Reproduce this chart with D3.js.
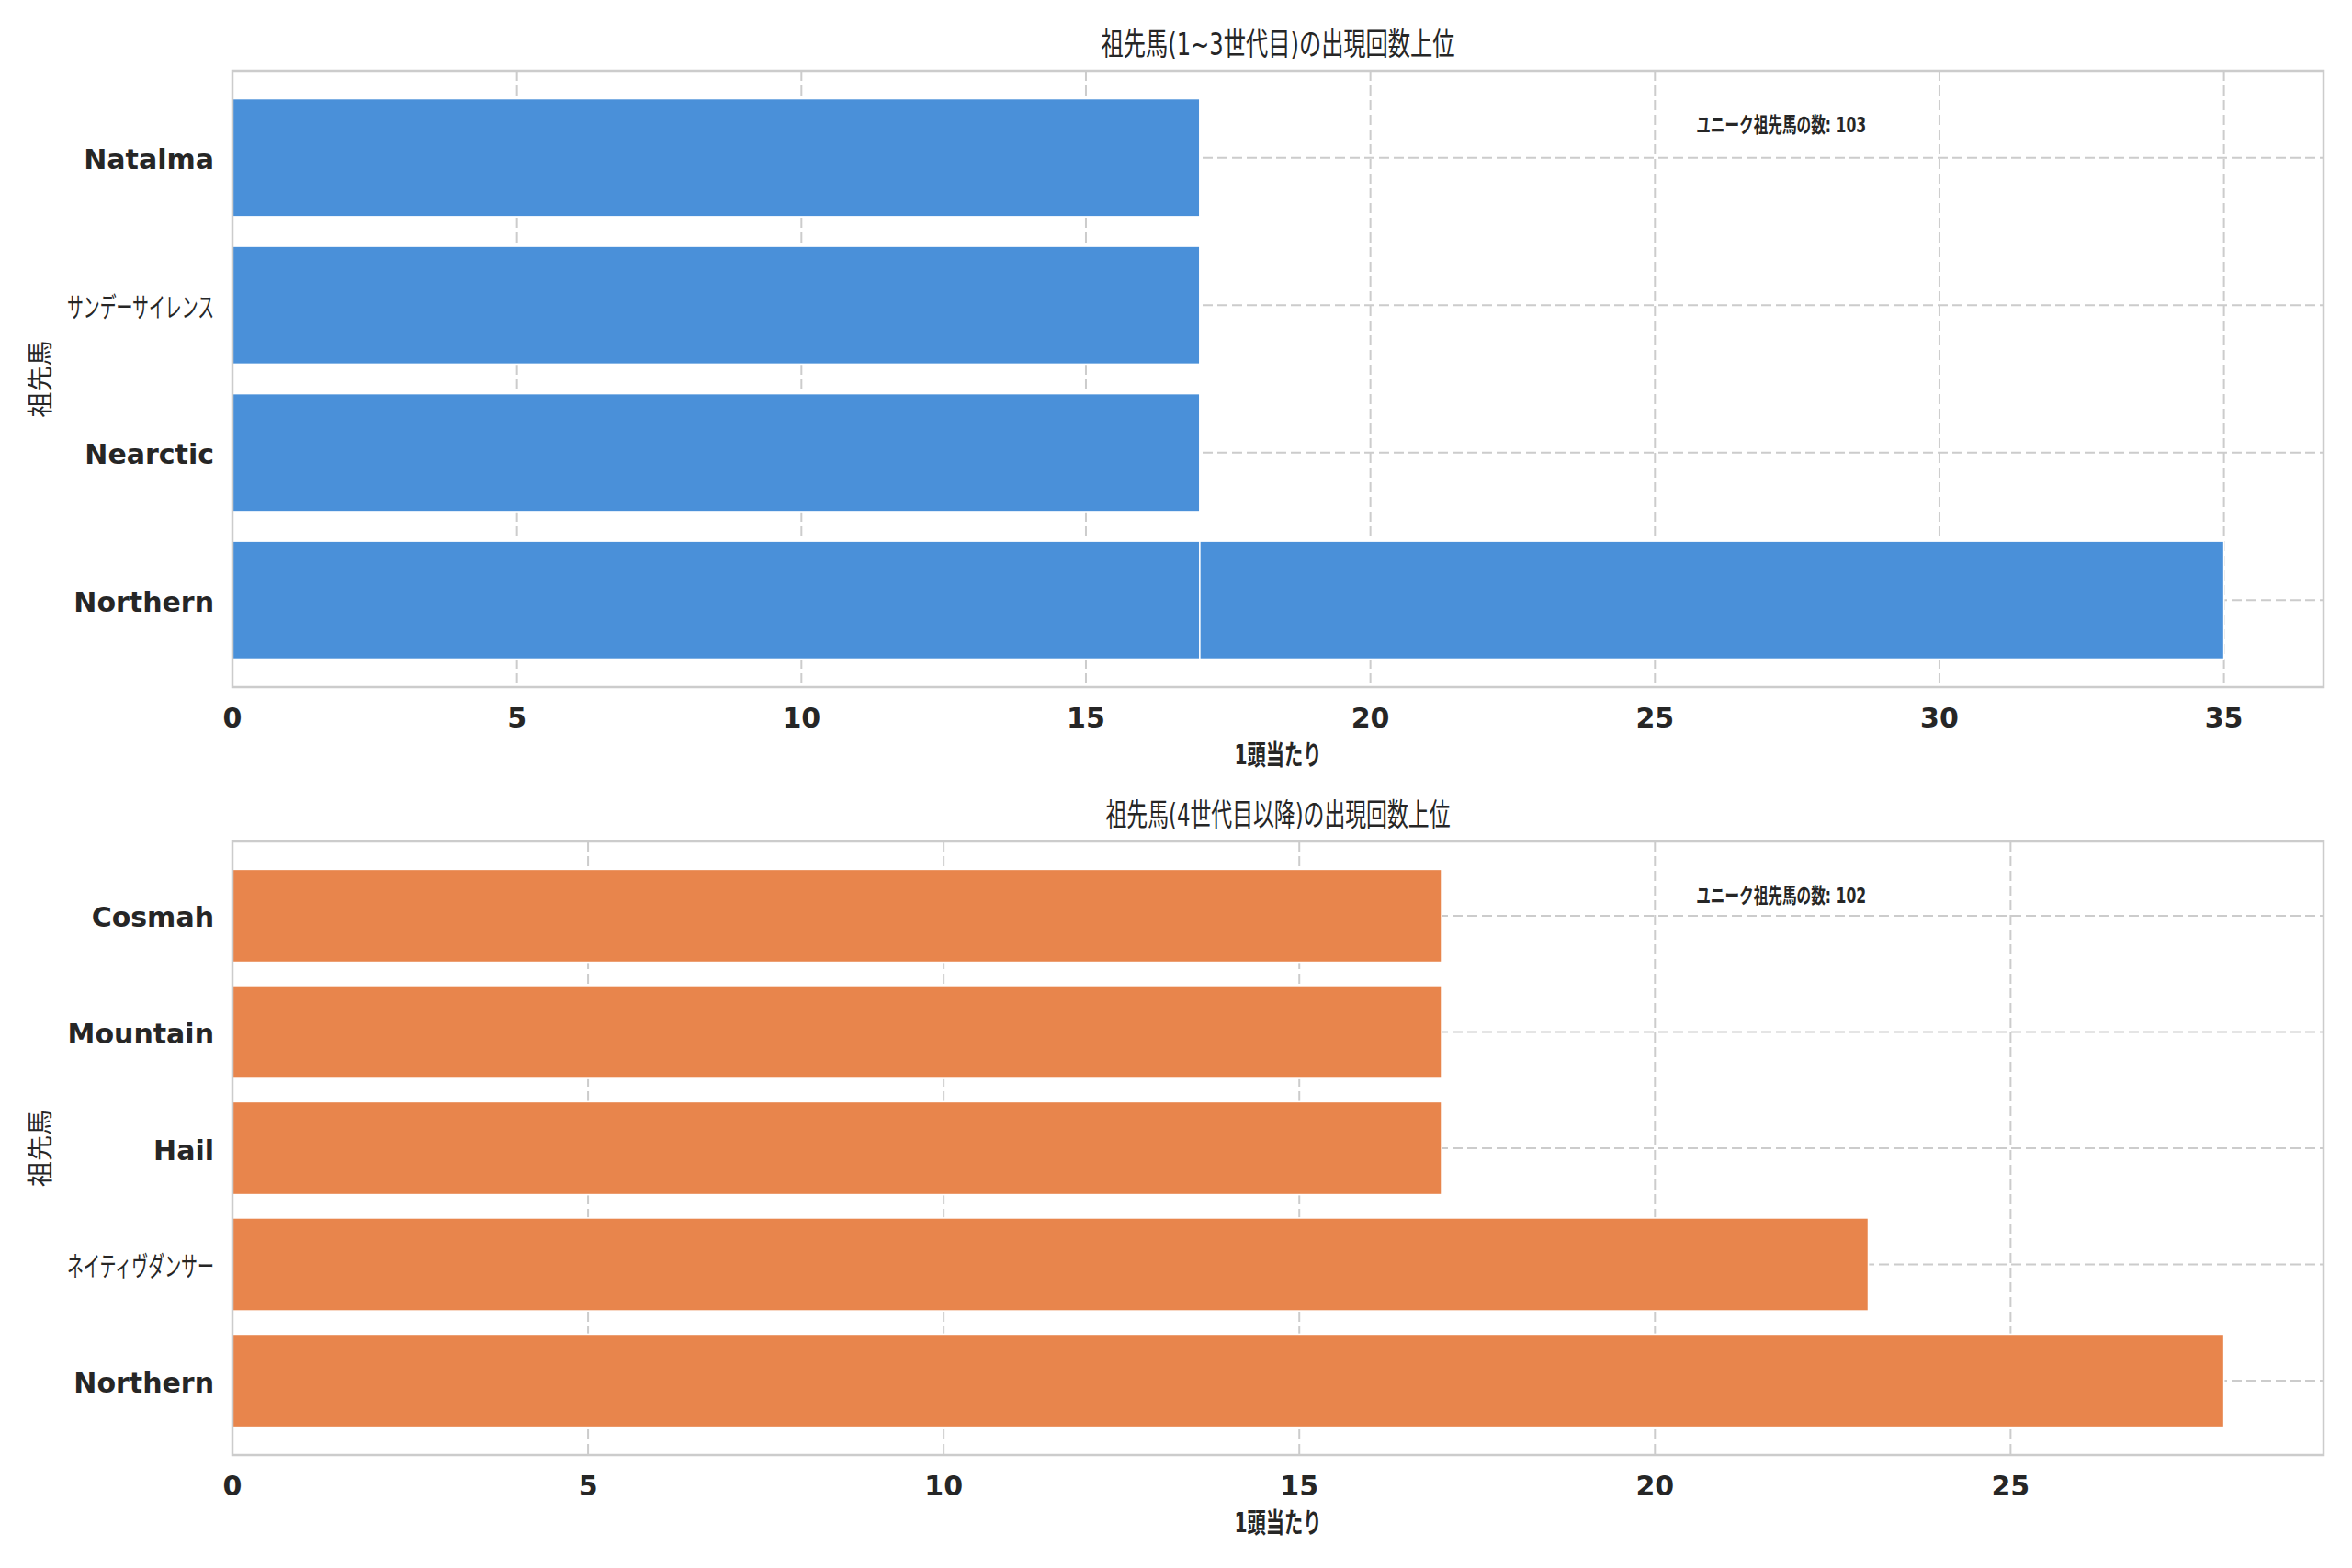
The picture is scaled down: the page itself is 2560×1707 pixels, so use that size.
<!DOCTYPE html>
<html>
<head>
<meta charset="utf-8">
<script src="https://cdn.jsdelivr.net/npm/d3@7"></script>
<style>
  body { margin: 0; background: #fff; }
  text { fill: #262626; font-family: "DejaVu Sans", "Noto Sans CJK JP", sans-serif; }
</style>
</head>
<body>
<div id="chart"></div>
<script>
// data
const topTitle = "祖先馬(1~3世代目)の出現回数上位";
const topNames = ["Northern", "Northern", "Nearctic", "サンデーサイレンス", "Natalma"];
const topCounts = [35, 17, 17, 17, 17];
const topTicks = [0, 5, 10, 15, 20, 25, 30, 35];
const topUnique = 103;

const bottomTitle = "祖先馬(4世代目以降)の出現回数上位";
const bottomNames = ["Northern", "ネイティヴダンサー", "Hail", "Mountain", "Cosmah"];
const bottomCounts = [28, 23, 17, 17, 17];
const bottomTicks = [0, 5, 10, 15, 20, 25];
const bottomUnique = 102;

const xLabel = "1頭当たり";
const yLabel = "祖先馬";
const noteLabel = "ユニーク祖先馬の数";

const W = 2560, H = 1707;
const svg = d3.select('#chart').append('svg')
  .attr('width', W)
  .attr('height', H);

// squeeze a text to a given width if it is wider (japanese glyphs run wide)
function fitWidth(sel, maxW){
  sel.each(function(){
    const w = this.getComputedTextLength();
    if (w > maxW) d3.select(this)
      .attr('textLength', maxW)
      .attr('lengthAdjust', 'spacingAndGlyphs');
  });
}

function panel(opts){
  const left = 253, right = 2529;
  const top = opts.top, bottom = opts.bottom;
  const g = svg.append('g');

  // unique category positions, like matplotlib categorical axis
  const cats = [];
  opts.names.forEach(n => { if (cats.indexOf(n) < 0) cats.push(n); });
  const n = cats.length;
  const lo = -0.4, hi = n - 1 + 0.4, pad = (hi - lo) * 0.05;

  const x = d3.scaleLinear()
    .domain([0, d3.max(opts.counts) * 1.05])
    .range([left, right]);
  const y = d3.scaleLinear()
    .domain([lo - pad, hi + pad])
    .range([bottom, top]);
  const bh = y(0) - y(0.8);

  // grid
  g.selectAll('.vgrid').data(opts.ticks).enter().append('line')
    .attr('x1', d => x(d)).attr('x2', d => x(d))
    .attr('y1', top).attr('y2', bottom)
    .attr('stroke', '#cccccc').attr('stroke-width', 2)
    .attr('stroke-dasharray', '11,5');
  g.selectAll('.hgrid').data(cats).enter().append('line')
    .attr('x1', left).attr('x2', right)
    .attr('y1', (d, i) => y(i)).attr('y2', (d, i) => y(i))
    .attr('stroke', '#cccccc').attr('stroke-width', 2)
    .attr('stroke-dasharray', '11,5');

  // bars
  g.selectAll('.bar').data(opts.names).enter().append('rect')
    .attr('x', x(0))
    .attr('y', d => y(cats.indexOf(d)) - bh / 2)
    .attr('width', (d, i) => x(opts.counts[i]) - x(0))
    .attr('height', bh)
    .attr('fill', opts.color)
    .attr('stroke', '#ffffff')
    .attr('stroke-width', 1.6);

  // frame
  g.append('rect')
    .attr('x', left).attr('y', top)
    .attr('width', right - left).attr('height', bottom - top)
    .attr('fill', 'none')
    .attr('stroke', '#cccccc').attr('stroke-width', 2.5);

  // x ticks
  g.selectAll('.xt').data(opts.ticks).enter().append('text')
    .attr('x', d => x(d))
    .attr('y', bottom + 35)
    .attr('text-anchor', 'middle')
    .attr('dominant-baseline', 'middle')
    .style('font-size', '30px')
    .style('font-weight', 'bold')
    .text(d => d);

  // y ticks
  const yt = g.selectAll('.yt').data(cats).enter().append('text')
    .attr('x', left - 20)
    .attr('y', (d, i) => y(i) + 4)
    .attr('text-anchor', 'end')
    .attr('dominant-baseline', 'middle')
    .style('font-size', '30px')
    .style('font-weight', d => /^[\x00-\x7f]+$/.test(d) ? 'bold' : 'normal')
    .text(d => d);
  fitWidth(yt, 160);

  // labels
  const xl = g.append('text')
    .attr('x', (left + right) / 2)
    .attr('y', bottom + 75)
    .attr('text-anchor', 'middle')
    .attr('dominant-baseline', 'middle')
    .style('font-size', '30px')
    .style('font-weight', 'bold')
    .text(xLabel);
  fitWidth(xl, 95);

  g.append('text')
    .attr('transform', 'translate(46,' + (top + bottom) / 2 + ') rotate(-90)')
    .attr('text-anchor', 'middle')
    .attr('dominant-baseline', 'middle')
    .style('font-size', '28px')
    .text(yLabel);

  const tt = g.append('text')
    .attr('x', (left + right) / 2)
    .attr('y', top - 27)
    .attr('text-anchor', 'middle')
    .attr('dominant-baseline', 'middle')
    .style('font-size', '34px')
    .text(opts.title);
  fitWidth(tt, opts.titleW);

  const note = g.append('text')
    .attr('x', left + 0.7 * (right - left))
    .attr('y', top + 0.09 * (bottom - top))
    .attr('dominant-baseline', 'middle')
    .style('font-size', '23px')
    .style('font-weight', 'bold')
    .text(noteLabel + ': ' + opts.unique);
  fitWidth(note, 185);
}

panel({top: 77, bottom: 748, names: topNames, counts: topCounts, ticks: topTicks,
  color: '#4a90d9', title: topTitle, titleW: 385, unique: topUnique});
panel({top: 916, bottom: 1584, names: bottomNames, counts: bottomCounts, ticks: bottomTicks,
  color: '#e8854c', title: bottomTitle, titleW: 375, unique: bottomUnique});
</script>
</body>
</html>
